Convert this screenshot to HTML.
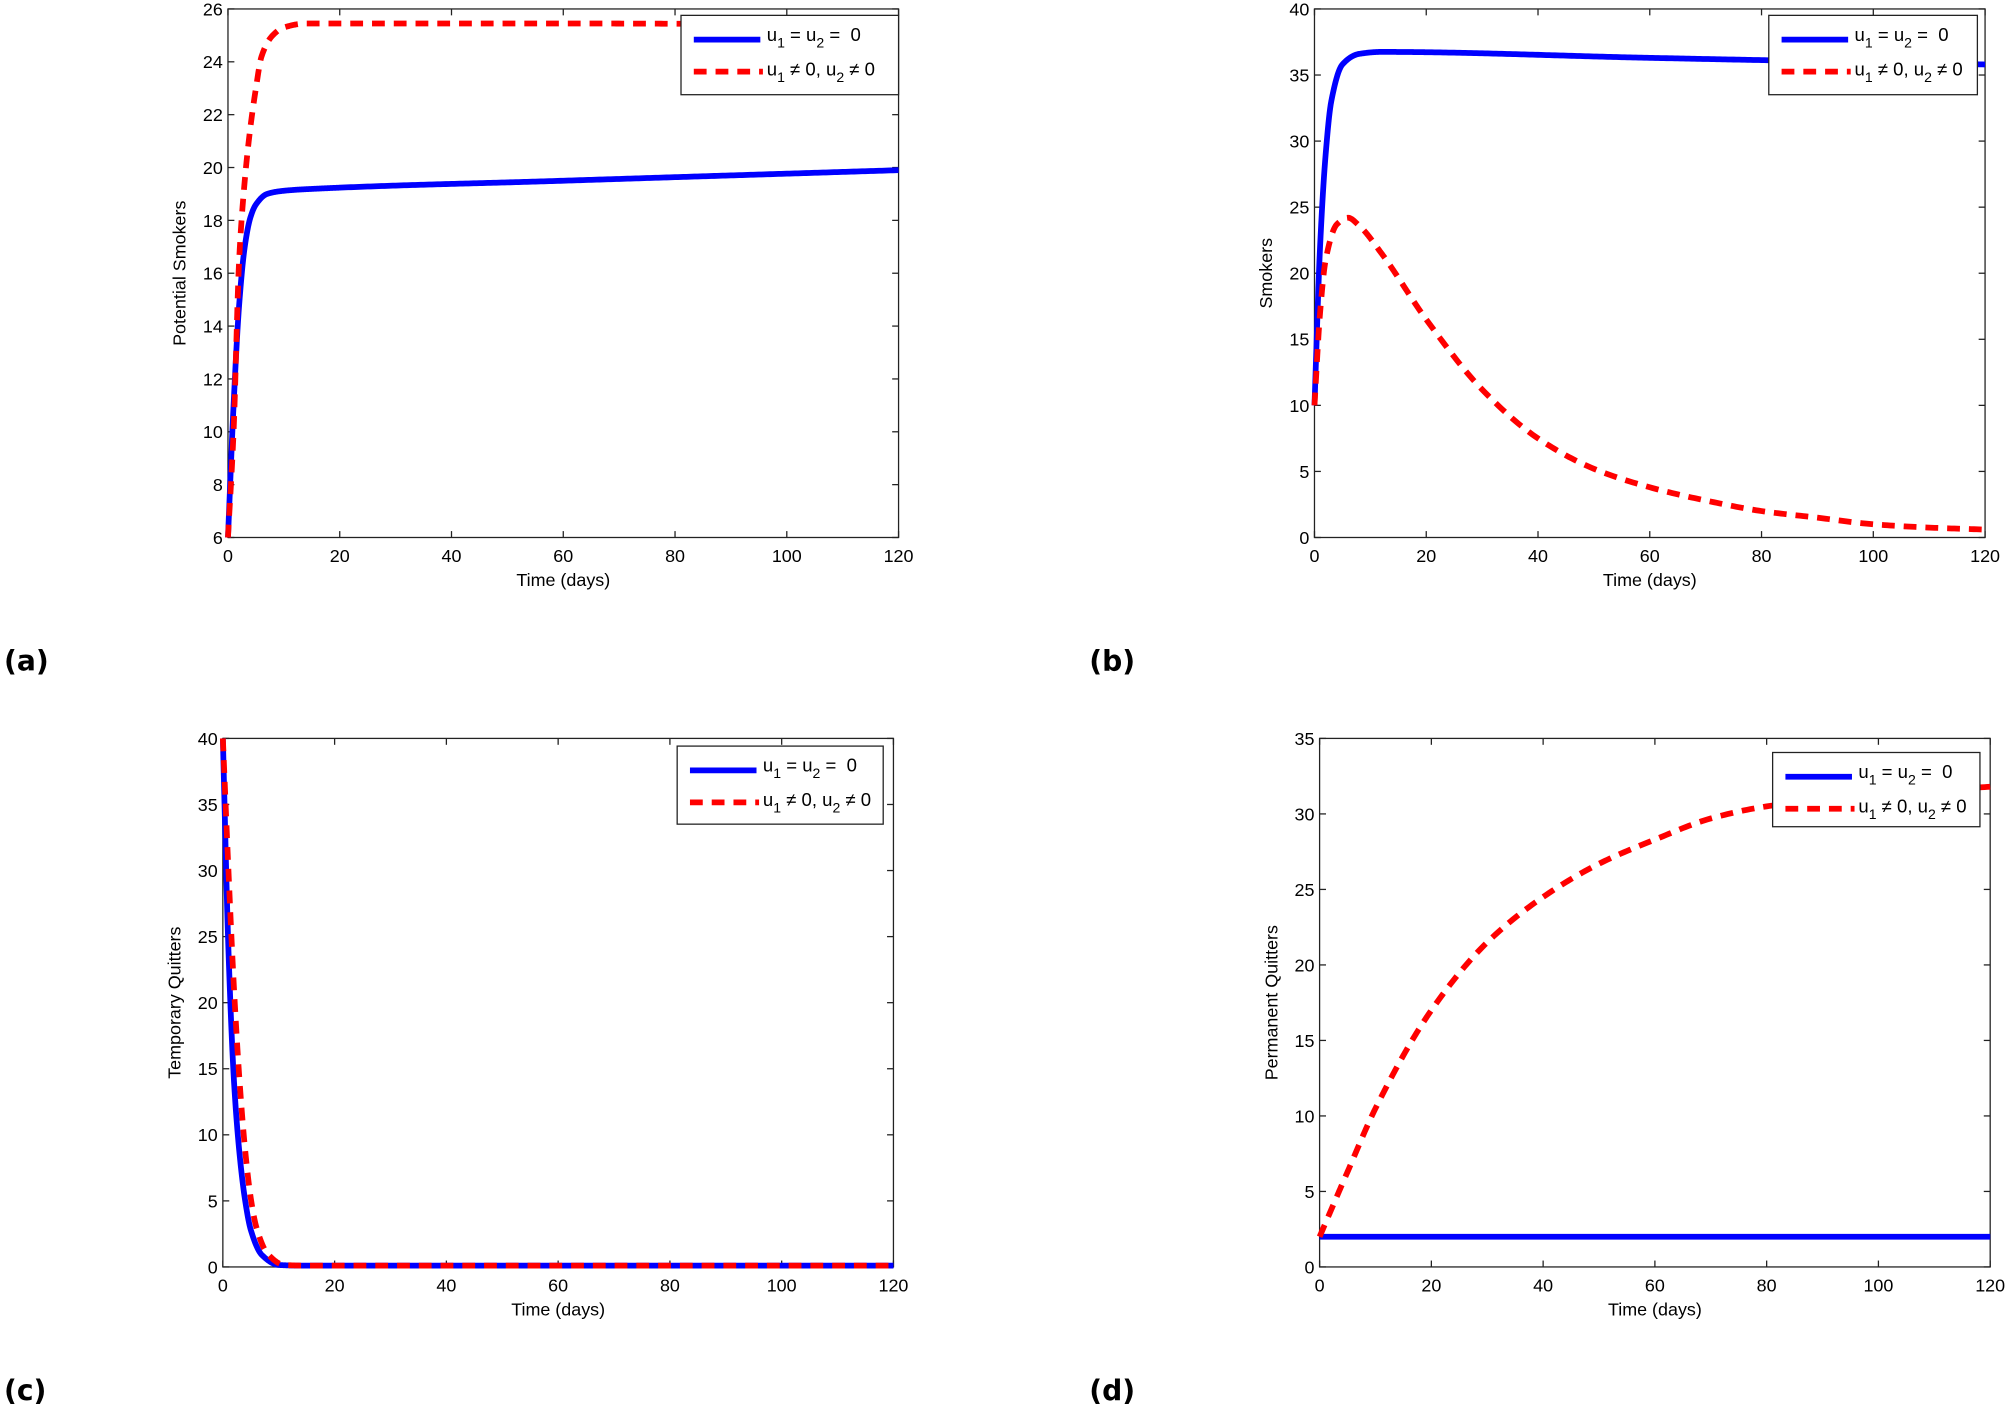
<!DOCTYPE html>
<html><head><meta charset="utf-8"><style>html,body{margin:0;padding:0;background:#fff}svg{display:block}</style></head>
<body>
<svg id="s" xmlns="http://www.w3.org/2000/svg" width="2007" height="1409" viewBox="0 0 1568 1101" font-family="Liberation Sans, sans-serif"></svg>
<script>
const svg=document.getElementById('s');let h='';
function mono(pts){const n=pts.length,xs=pts.map(p=>p[0]),ys=pts.map(p=>p[1]);const d=[],m=[];
for(let i=0;i<n-1;i++)d.push((ys[i+1]-ys[i])/(xs[i+1]-xs[i]));
m[0]=d[0];m[n-1]=d[n-2];for(let i=1;i<n-1;i++){m[i]=(d[i-1]*d[i]<=0)?0:(3*(xs[i+1]-xs[i-1]))/((2*xs[i+1]-xs[i]-xs[i-1])/d[i-1]+(xs[i+1]+xs[i]-2*xs[i-1])/d[i]);}
return t=>{let i=0;while(i<n-2&&t>xs[i+1])i++;const hh=xs[i+1]-xs[i],s=(t-xs[i])/hh;
const h00=2*s*s*s-3*s*s+1,h10=s*s*s-2*s*s+s,h01=-2*s*s*s+3*s*s,h11=s*s*s-s*s;
return h00*ys[i]+h10*hh*m[i]+h01*ys[i+1]+h11*hh*m[i+1];};}
function path(pts,X,Y){const f=mono(pts);let d='';for(let t=0;t<=120.001;t+=(t<20?0.1:0.5)){d+=(d?' L':'M')+X(t).toFixed(2)+' '+Y(f(t)).toFixed(2);}return d;}
function panel(o){const {x0,x1,y0,y1,ymin,ymax,ystep,ylab,blue,red,lg,lab,labX,labY}=o;
const X=t=>x0+(x1-x0)*t/120,Y=v=>y1-(y1-y0)*(v-ymin)/(ymax-ymin);
h+=`<rect x="${x0}" y="${y0}" width="${x1-x0}" height="${y1-y0}" fill="#fff" stroke="#222" stroke-width="1"/>`;
for(let t=0;t<=120;t+=20){const x=X(t);h+=`<line x1="${x}" y1="${y1}" x2="${x}" y2="${y1-5}" stroke="#222"/><line x1="${x}" y1="${y0}" x2="${x}" y2="${y0+5}" stroke="#222"/><text x="${x}" y="${y1+19}" font-size="14" text-anchor="middle">${t}</text>`;}
for(let v=ymin;v<=ymax+1e-9;v+=ystep){const y=Y(v);h+=`<line x1="${x0}" y1="${y}" x2="${x0+5}" y2="${y}" stroke="#222"/><line x1="${x1}" y1="${y}" x2="${x1-5}" y2="${y}" stroke="#222"/><text x="${x0-4}" y="${y+5}" font-size="14" text-anchor="end">${v}</text>`;}
h+=`<text x="${(x0+x1)/2}" y="${y1+38}" font-size="14" text-anchor="middle">Time (days)</text>`;
h+=`<text transform="translate(${x0-33},${(y0+y1)/2}) rotate(-90)" font-size="14" text-anchor="middle">${ylab}</text>`;
h+=`<path d="${path(blue,X,Y)}" fill="none" stroke="#0000ff" stroke-width="4.5" stroke-linejoin="round"/>`;
h+=`<path d="${path(red,X,Y)}" fill="none" stroke="#ff0000" stroke-width="4.5" stroke-dasharray="10 7"/>`;
const [lx,ly,lw,lh]=lg;
h+=`<rect x="${lx}" y="${ly}" width="${lw}" height="${lh}" fill="#fff" stroke="#222"/>`;
h+=`<line x1="${lx+10}" y1="${ly+19}" x2="${lx+62}" y2="${ly+19}" stroke="#0000ff" stroke-width="4.5"/>`;
h+=`<line x1="${lx+10}" y1="${ly+44}" x2="${lx+64}" y2="${ly+44}" stroke="#ff0000" stroke-width="4.5" stroke-dasharray="10 7"/>`;
h+=`<text x="${lx+67}" y="${ly+20}" font-size="14.5">u<tspan font-size="11" dy="5">1</tspan><tspan dy="-5"> = u</tspan><tspan font-size="11" dy="5">2</tspan><tspan dy="-5" xml:space="preserve"> =  0</tspan></text>`;
h+=`<text x="${lx+67}" y="${ly+47}" font-size="14.5">u<tspan font-size="11" dy="5">1</tspan><tspan dy="-5"> ≠ 0, u</tspan><tspan font-size="11" dy="5">2</tspan><tspan dy="-5"> ≠ 0</tspan></text>`;
h+=`<text x="${labX}" y="${labY}" font-size="22" font-weight="bold" font-family="DejaVu Sans, sans-serif">${lab}</text>`;}
panel({x0:178,x1:702,y0:7,y1:420,ymin:6,ymax:26,ystep:2,ylab:'Potential Smokers',
blue:[[0,6],[1,11],[2,14.8],[3,17],[4,18.1],[5,18.6],[7,19],[10,19.12],[14,19.18],[60,19.5],[120,19.9]],
red:[[0,6],[1,10],[2,16.5],[3,19.5],[4,21.5],[5,23],[6,24.2],[8,25],[10,25.3],[14,25.45],[60,25.45],[120,25.4]],
lg:[532,12,170,62],lab:'(a)',labX:3,labY:524});
panel({x0:1027,x1:1551,y0:7,y1:420,ymin:0,ymax:40,ystep:5,ylab:'Smokers',
blue:[[0,10],[1,22],[2,29],[3,33],[5,35.8],[8,36.6],[12,36.75],[60,36.3],[120,35.8]],
red:[[0,10],[1,17],[2,21],[4,23.7],[6,24.2],[8,23.6],[12,21.5],[20,16.5],[30,11.2],[40,7.5],[50,5.2],[60,3.8],[70,2.8],[80,2.0],[90,1.5],[100,1.0],[110,0.75],[120,0.6]],
lg:[1382,12,163,62],lab:'(b)',labX:851,labY:524});
panel({x0:174,x1:698,y0:577,y1:990,ymin:0,ymax:40,ystep:5,ylab:'Temporary Quitters',
blue:[[0,40],[1,24],[2,14],[3,8.5],[4,5],[5,2.8],[7,0.9],[10,0.15],[14,0.1],[120,0.1]],
red:[[0,40],[1,30],[2,21],[3,14],[4,8.8],[5,5.2],[6,3],[8,1],[11,0.15],[15,0.1],[120,0.1]],
lg:[529,583,161,61],lab:'(c)',labX:3,labY:1094});
panel({x0:1031,x1:1555,y0:577,y1:990,ymin:0,ymax:35,ystep:5,ylab:'Permanent Quitters',
blue:[[0,2],[60,2],[120,2]],
red:[[0,2],[5,6.3],[10,10.5],[20,17],[30,21.5],[40,24.5],[50,26.7],[60,28.3],[70,29.7],[80,30.5],[100,31.3],[120,31.8]],
lg:[1385,588,162,58],lab:'(d)',labX:851,labY:1094});
svg.innerHTML=h;
</script>
</body></html>
